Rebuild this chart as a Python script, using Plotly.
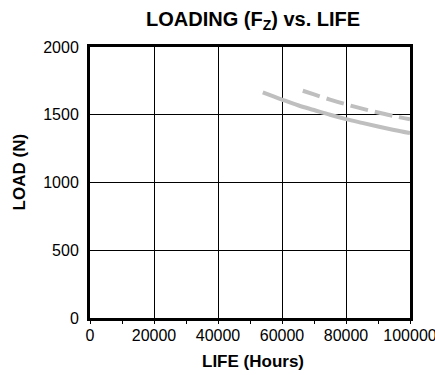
import plotly.graph_objects as go

# Bearing life curves: load (N) versus rated life (hours)
life_solid = [54000, 60000, 65000, 70000, 75000, 80000, 85000, 90000, 95000, 100000]
load_solid = [1665, 1612, 1570, 1535, 1500, 1468, 1440, 1413, 1388, 1365]

life_dashed = [66500, 70000, 75000, 80000, 85000, 90000, 95000, 100000]
load_dashed = [1677, 1650, 1612, 1577, 1545, 1517, 1490, 1467]

x_ticks = [0, 20000, 40000, 60000, 80000, 100000]
y_ticks = [0, 500, 1000, 1500, 2000]

curve_color = "#bfbfbf"
font_family = "Liberation Sans, Arial, Helvetica, sans-serif"

fig = go.Figure()
fig.add_trace(go.Scatter(
    x=life_solid, y=load_solid, mode="lines",
    line=dict(color=curve_color, width=4, shape="spline"),
    showlegend=False, hoverinfo="skip",
))
fig.add_trace(go.Scatter(
    x=life_dashed, y=load_dashed, mode="lines",
    line=dict(color=curve_color, width=4, dash="18px,7px", shape="spline"),
    showlegend=False, hoverinfo="skip",
))

fig.update_layout(
    width=435, height=375,
    margin=dict(l=90, r=25, t=47, b=57, autoexpand=False),
    paper_bgcolor="white", plot_bgcolor="white",
    font=dict(family=font_family, color="black"),
    annotations=[
        dict(text="<b>LOADING (F<sub>Z</sub>) vs. LIFE</b>", xref="paper", yref="paper",
             x=0.51, y=1.0996, xanchor="center", yanchor="middle", showarrow=False,
             font=dict(size=20)),
        dict(text="<b>LIFE (Hours)</b>", xref="paper", yref="paper",
             x=0.51, y=-0.1587, xanchor="center", yanchor="middle", showarrow=False,
             font=dict(size=17)),
        dict(text="<b>LOAD (N)</b>", xref="paper", yref="paper", textangle=-90,
             x=-0.2207, y=0.5387, xanchor="center", yanchor="middle", showarrow=False,
             font=dict(size=17)),
    ],
)

fig.update_xaxes(
    range=[0, 100000], tickvals=x_ticks, ticktext=[str(v) for v in x_ticks],
    showgrid=True, gridcolor="black", gridwidth=1, zeroline=False,
    showline=True, linecolor="black", linewidth=3, mirror=True,
    ticks="outside", ticklen=1, tickcolor="rgba(0,0,0,0)",
    ticklabeloverflow="allow",
    minor=dict(dtick=10000, ticks="outside", ticklen=3, tickcolor="black", tickwidth=1, showgrid=False),
    tickfont=dict(size=16),
)
fig.update_yaxes(
    range=[0, 2000], tickvals=y_ticks,
    showgrid=True, gridcolor="black", gridwidth=1, zeroline=False,
    showline=True, linecolor="black", linewidth=3, mirror=True,
    ticks="outside", ticklen=5, tickcolor="rgba(0,0,0,0)",
    ticklabeloverflow="allow",
    tickfont=dict(size=16),
)

fig.write_html("out.html")
